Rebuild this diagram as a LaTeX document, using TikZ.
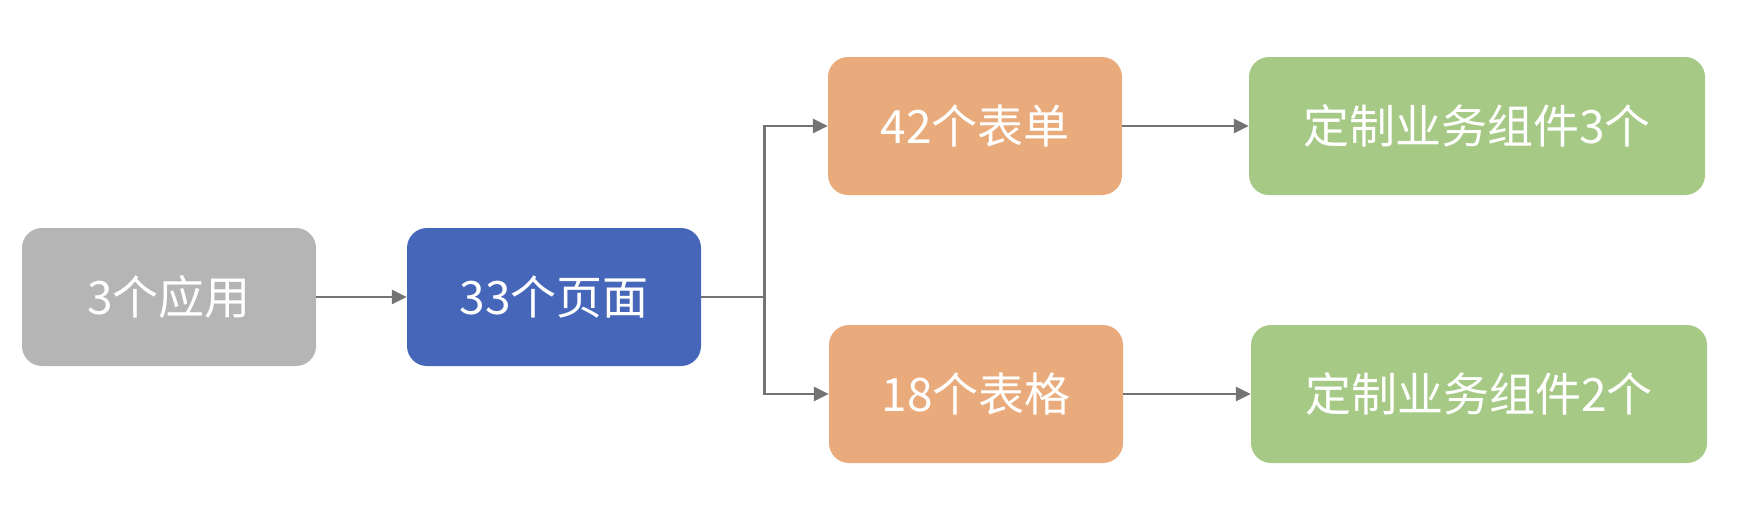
\documentclass[tikz,border=0pt]{standalone}
\usepackage{fontspec}
\newfontfamily\cjk{Noto Sans CJK SC}
\usetikzlibrary{arrows.meta}
\definecolor{cgray}{HTML}{B5B5B5}
\definecolor{cblue}{HTML}{4666BA}
\definecolor{corange}{HTML}{E9AB7C}
\definecolor{cgreen}{HTML}{A6C985}
\definecolor{cline}{HTML}{737373}
\begin{document}
\begin{tikzpicture}[x=1pt,y=-1pt,
  box/.style={rounded corners=20pt, minimum height=138pt, inner sep=0pt, text=white, font=\cjk\fontsize{46}{52}\selectfont},
  smallbox/.style={box, minimum width=294pt},
  widebox/.style={box, minimum width=456pt},
  conn/.style={draw=cline, line width=2.6pt, -{Triangle[length=15pt,width=14pt]}},
  plain/.style={draw=cline, line width=2.6pt}]
\useasboundingbox (0,0) rectangle (1764,520);
\node[smallbox, fill=cgray] (A) at (169,297) {3个应用};
\node[smallbox, fill=cblue] (B) at (554,297) {33个页面};
\node[smallbox, fill=corange] (C) at (975,126) {42个表单};
\node[smallbox, fill=corange] (D) at (976,394) {18个表格};
\node[widebox, fill=cgreen] (E) at (1477,126) {定制业务组件3个};
\node[widebox, fill=cgreen] (F) at (1479,394) {定制业务组件2个};
\coordinate (J) at (764.5,297);
\draw[conn] (A) -- (B);
\draw[plain] (B.east) -- (J);
\draw[conn] (J) |- (C.west);
\draw[conn] (J) |- (D.west);
\draw[conn] (C) -- (E);
\draw[conn] (D) -- (F);
\end{tikzpicture}
\end{document}
